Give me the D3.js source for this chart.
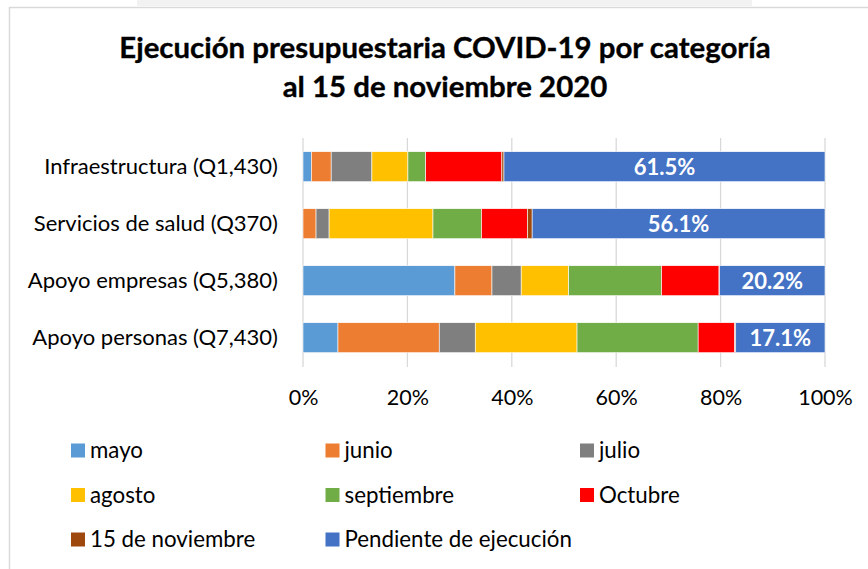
<!DOCTYPE html>
<html>
<head>
<meta charset="utf-8">
<script src="https://cdn.jsdelivr.net/npm/d3@7/dist/d3.min.js"></script>
<style>
  html, body { margin: 0; padding: 0; background: #ffffff; }
  svg { display: block; font-family: Lato, "Open Sans", sans-serif; }
</style>
</head>
<body>
<svg id="chart" width="868" height="569"></svg>
<script>
// ---- Data (% of each category's budget) ----
const categories = [
  "Infraestructura (Q1,430)",
  "Servicios de salud (Q370)",
  "Apoyo empresas (Q5,380)",
  "Apoyo personas (Q7,430)"
];
const seriesNames = ["mayo", "junio", "julio", "agosto", "septiembre", "Octubre", "15 de noviembre", "Pendiente de ejecución"];
const mayo        = [1.6, 0.0, 29.1, 6.7];
const junio       = [3.8, 2.5, 7.1, 19.4];
const julio       = [7.8, 2.5, 5.6, 6.9];
const agosto      = [6.9, 19.9, 9.1, 19.5];
const septiembre  = [3.4, 9.3, 17.8, 23.2];
const octubre     = [14.6, 8.8, 11.0, 7.0];
const noviembre15 = [0.4, 0.9, 0.1, 0.2];
const pendiente   = [61.5, 56.1, 20.2, 17.1];
const tickValues  = [0, 20, 40, 60, 80, 100];
const titleLines  = ["Ejecución presupuestaria COVID-19 por categoría", "al 15 de noviembre 2020"];

const seriesValues = [mayo, junio, julio, agosto, septiembre, octubre, noviembre15, pendiente];
const colors = ["#5B9BD5", "#ED7D31", "#7F7F7F", "#FFC000", "#70AD47", "#FF0000", "#9E480E", "#4472C4"];

// table for d3.stack
const table = categories.map((c, i) => {
  const row = { category: c };
  seriesNames.forEach((s, j) => { row[s] = seriesValues[j][i]; });
  return row;
});

const svg = d3.select("#chart");

// ---- Frame / background pieces ----
svg.append("rect").attr("x", 137).attr("y", 0).attr("width", 615).attr("height", 6).attr("fill", "#f2f2f2");
svg.append("line").attr("x1", 9.5).attr("x2", 9.5).attr("y1", 7).attr("y2", 569).attr("stroke", "#d9d9d9").attr("stroke-width", 1.5);
svg.append("line").attr("x1", 9).attr("x2", 868).attr("y1", 7.5).attr("y2", 7.5).attr("stroke", "#d9d9d9").attr("stroke-width", 1.5);

// ---- Title ----
const title = svg.append("text").attr("text-anchor", "middle").attr("font-weight", "bold")
  .attr("font-size", 29.4).attr("fill", "#000").attr("stroke", "#000").attr("stroke-width", 0.35);
title.selectAll("tspan").data(titleLines).join("tspan")
  .attr("x", 445).attr("y", (d, i) => 58 + i * 39).text(d => d);

// ---- Scales ----
const x = d3.scaleLinear().domain([0, 100]).range([303, 825]);
const y = d3.scaleBand().domain(categories).range([138.2, 366.2]).paddingInner(0.474).paddingOuter(0.237);

// gridlines
svg.append("g").selectAll("line").data(tickValues).join("line")
  .attr("x1", d => x(d)).attr("x2", d => x(d))
  .attr("y1", 138).attr("y2", 367)
  .attr("stroke", "#d9d9d9").attr("stroke-width", 1.3);

// stacked bars
const stack = d3.stack().keys(seriesNames);
const stacked = stack(table);

svg.append("g").selectAll("g").data(stacked).join("g")
  .attr("fill", (d, i) => colors[i])
  .selectAll("rect").data(d => d).join("rect")
  .attr("x", d => x(d[0]))
  .attr("y", d => y(d.data.category))
  .attr("width", d => Math.max(0, x(d[1]) - x(d[0])))
  .attr("height", y.bandwidth())
  .attr("stroke", "#ffffff").attr("stroke-width", 0.6);

// data labels on "Pendiente de ejecución"
const last = stacked[stacked.length - 1];
svg.append("g").selectAll("text").data(last).join("text")
  .attr("x", d => (x(d[0]) + x(d[1])) / 2)
  .attr("y", d => y(d.data.category) + y.bandwidth() / 2)
  .attr("dy", "0.36em")
  .attr("text-anchor", "middle").attr("font-weight", "bold")
  .attr("font-size", 22).attr("fill", "#ffffff")
  .text(d => d3.format(".1f")(d[1] - d[0]) + "%");

// category axis (left)
const yAxis = svg.append("g").attr("transform", "translate(303,0)")
  .call(d3.axisLeft(y).tickSize(0).tickPadding(25));
yAxis.select(".domain").remove();
yAxis.selectAll("text").attr("font-size", 22).attr("fill", "#000").attr("font-family", "Lato, sans-serif");

// value axis (bottom)
const xAxis = svg.append("g").attr("transform", "translate(0,384)")
  .call(d3.axisBottom(x).tickValues(tickValues).tickFormat(d => d + "%").tickSize(0).tickPadding(0));
xAxis.select(".domain").remove();
xAxis.selectAll("text").attr("font-size", 21.5).attr("fill", "#000").attr("font-family", "Lato, sans-serif")
  .attr("dy", "0.71em").attr("y", 6);

// ---- Legend ----
const legend = svg.append("g");
const item = legend.selectAll("g").data(seriesNames).join("g")
  .attr("transform", (d, i) => `translate(${71 + (i % 3) * 254.5},${443.5 + Math.floor(i / 3) * 44.5})`);
item.append("rect").attr("width", 14).attr("height", 14).attr("fill", (d, i) => colors[i]);
item.append("text").attr("x", 19).attr("y", 14.5).attr("font-size", 22.3).attr("fill", "#000").text(d => d);
</script>
</body>
</html>
